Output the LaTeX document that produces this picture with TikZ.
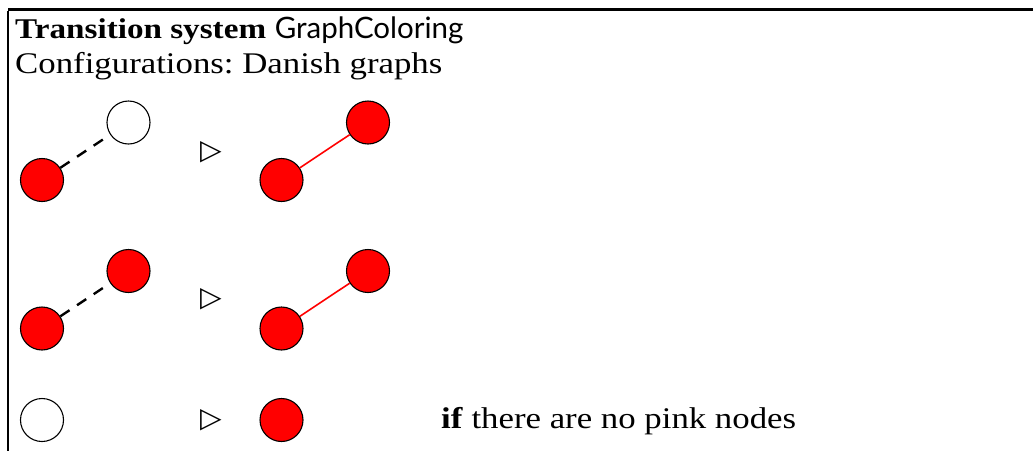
\documentclass[tikz,border=0pt]{standalone}
\usepackage{fontspec}
\setmainfont[FakeStretch=1.16]{Liberation Serif}
\newfontfamily\gsans{Lato}
\newfontfamily\symb{DejaVu Sans}
\frenchspacing
\begin{document}
\begin{tikzpicture}[x=1pt,y=-1pt,
  vert/.style={circle,draw=black,line width=1.1pt,minimum size=43pt,inner sep=0pt},
  redv/.style={vert,fill=red},
  whitev/.style={vert,fill=white},
  pending/.style={line width=2.4pt,dash pattern=on 11pt off 9pt},
  colored/.style={red,line width=1.6pt},
  txt/.style={anchor=base west,inner sep=0pt,font=\fontsize{30}{35}\selectfont},
  rule/.style={font=\symb\fontsize{28}{30}\selectfont,inner sep=0pt}]
\useasboundingbox (0,0) rectangle (1033,451);
\coordinate (tl) at (8,9.5);
\coordinate (tr) at (1033,9.5);
\coordinate (bl) at (8,451);
\draw[line width=3pt] (tl) -- (tr);
\draw[line width=1.5pt] ([yshift=-1.5pt]tl) -- (bl);
\node[txt] (title) at (15,38) {{\fontsize{28.6}{35}\selectfont\textbf{Transition system}} {\gsans\fontsize{29.5}{35}\selectfont GraphColoring}};
\node[txt] (conf) at (15,73) {Configurations: Danish graphs};
% row 1
\node[redv] (a1) at (42,180) {};
\node[whitev] (b1) at (128.5,122.5) {};
\node[rule] (r1) at (211,152) {▷};
\node[redv] (c1) at (281.5,180) {};
\node[redv] (d1) at (368,122.5) {};
\draw[pending] (a1) -- (b1);
\draw[colored] (c1) -- (d1);
% row 2
\node[redv] (a2) at (42,328.5) {};
\node[redv] (b2) at (128.5,271) {};
\node[rule] (r2) at (211,299.5) {▷};
\node[redv] (c2) at (281.5,328.5) {};
\node[redv] (d2) at (368,271) {};
\draw[pending] (a2) -- (b2);
\draw[colored] (c2) -- (d2);
% row 3
\node[whitev] (a3) at (42,420) {};
\node[rule] (r3) at (211,420.5) {▷};
\node[redv] (c3) at (281.5,420) {};
\node[txt] (cond) at (441,428) {\textbf{if} there are no pink nodes};
\end{tikzpicture}
\end{document}
